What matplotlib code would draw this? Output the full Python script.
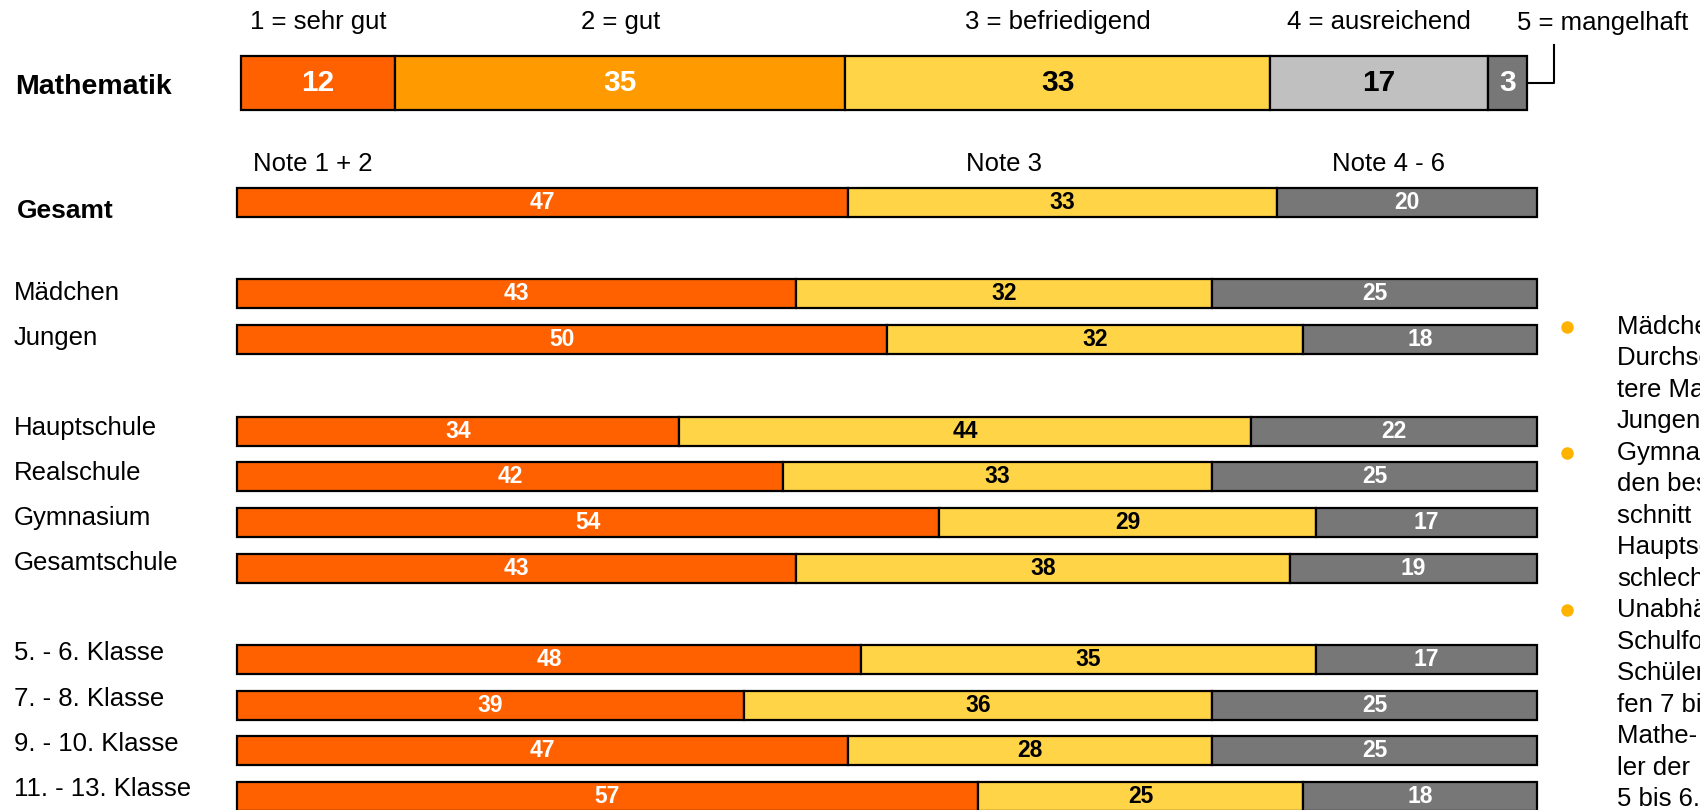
import matplotlib
matplotlib.use("Agg")
import matplotlib.pyplot as plt
from matplotlib.lines import Line2D

plt.rcParams["font.family"] = ["Liberation Sans", "DejaVu Sans"]

# ---- data -------------------------------------------------------------
math_grades = ["1 = sehr gut", "2 = gut", "3 = befriedigend", "4 = ausreichend", "5 = mangelhaft"]
math_values = [12, 35, 33, 17, 3]

note_headers = ["Note 1 + 2", "Note 3", "Note 4 - 6"]
group_labels = ["Gesamt", "Mädchen", "Jungen", "Hauptschule", "Realschule",
                "Gymnasium", "Gesamtschule", "5. - 6. Klasse", "7. - 8. Klasse",
                "9. - 10. Klasse", "11. - 13. Klasse"]
note_12 = [47, 43, 50, 34, 42, 54, 43, 48, 39, 47, 57]
note_3 = [33, 32, 32, 44, 33, 29, 38, 35, 36, 28, 25]
note_46 = [20, 25, 18, 22, 25, 17, 19, 17, 25, 25, 18]

notes_text = [
    "Mädchen haben im", "Durchschnitt schlech-", "tere Mathenoten als", "Jungen.",
    "Gymnasiasten haben", "den besten Durch-", "schnitt und", "Hauptschüler den",
    "schlechtesten.",
    "Unabhängig von der", "Schulform haben", "Schüler der Stu-", "fen 7 bis 8 schlech-",
    "Mathe- Noten als Schü-", "ler der", "5 bis 6.",
]
bullet_lines = [0, 4, 9]

# ---- styling ------------------------------------------------------------
W, H = 1700, 810
ORANGE_DARK = "#FF6100"
ORANGE = "#FF9A00"
YELLOW = "#FFD447"
GREY_LIGHT = "#C0C0C0"
GREY_DARK = "#777777"
EDGE_LW = 1.6

fig = plt.figure(figsize=(W / 100, H / 100), dpi=100)
fig.patch.set_facecolor("white")


def fx(px):
    return px / W


def fy(py):
    return 1 - py / H


def box(left, top, right, bottom):
    return [fx(left), fy(bottom), fx(right) - fx(left), fy(top) - fy(bottom)]


# ---- Mathematik: five-grade stacked bar ---------------------------------
m_left, m_right, m_top, m_bottom = 241, 1527, 56, 110
ax_m = fig.add_axes(box(m_left, m_top, m_right, m_bottom))
ax_m.set_xlim(0, 100)
ax_m.set_ylim(-0.5, 0.5)
ax_m.axis("off")

m_colors = [ORANGE_DARK, ORANGE, YELLOW, GREY_LIGHT, GREY_DARK]
m_text_colors = ["white", "white", "black", "black", "white"]
start = 0
for i, v in enumerate(math_values):
    ax_m.barh(0, v, left=start, height=1, color=m_colors[i], edgecolor="black",
              linewidth=EDGE_LW, clip_on=False)
    ax_m.text(start + v / 2, 0, str(v), ha="center", va="center", fontsize=21.5,
              fontweight="bold", color=m_text_colors[i])
    if i < 4:
        ax_m.text(start + v / 2, 0.5 + 34 / 54, math_grades[i], ha="center",
                  va="center", fontsize=18.5, color="black")
    start += v

# label for the last (narrow) segment, connected by a bracket line
fig.text(fx(1517), fy(23), math_grades[4], ha="left", va="center", fontsize=18.5)
fig.add_artist(Line2D([fx(1527), fx(1554), fx(1554)], [fy(83), fy(83), fy(45)],
                      transform=fig.transFigure, color="black", lw=1.5))
fig.text(fx(15), fy(87), "Mathematik", ha="left", va="center", fontsize=20.5,
         fontweight="bold")

# ---- grouped three-class bars --------------------------------------------
slots = [0, 2, 3, 5, 6, 7, 8, 10, 11, 12, 13]
row0, row_h = 202.5, 45.7
g_left, g_right = 237, 1537
ax = fig.add_axes(box(g_left, row0 - 0.5 * row_h, g_right, row0 + 13.5 * row_h))
ax.set_xlim(0, 100)
ax.set_ylim(13.5, -0.5)
ax.axis("off")

bar_h = 29 / row_h
ax.barh(slots, note_12, height=bar_h, color=ORANGE_DARK, edgecolor="black",
        linewidth=EDGE_LW, clip_on=False)
ax.barh(slots, note_3, left=note_12, height=bar_h, color=YELLOW,
        edgecolor="black", linewidth=EDGE_LW, clip_on=False)
left3 = [a + b for a, b in zip(note_12, note_3)]
ax.barh(slots, note_46, left=left3, height=bar_h, color=GREY_DARK,
        edgecolor="black", linewidth=EDGE_LW, clip_on=False)

for s, a, b, c, l3 in zip(slots, note_12, note_3, note_46, left3):
    ax.text(a / 2, s, str(a), ha="center", va="center", fontsize=16.5,
            fontweight="bold", color="white")
    ax.text(a + b / 2, s, str(b), ha="center", va="center", fontsize=16.5,
            fontweight="bold", color="black")
    ax.text(l3 + c / 2, s, str(c), ha="center", va="center", fontsize=16.5,
            fontweight="bold", color="white")

# row labels on the left
lab_tr = ax.get_yaxis_transform()
for k, (s, lab) in enumerate(zip(slots, group_labels)):
    if k == 0:
        ax.text((17 - g_left) / (g_right - g_left), s + 0.18, lab, transform=lab_tr,
                ha="left", va="center", fontsize=19, fontweight="bold")
    else:
        drift = s * 0.6 / row_h
        ax.text((14 - g_left) / (g_right - g_left), s - drift, lab, transform=lab_tr,
                ha="left", va="center", fontsize=18.5)

# column headers above the Gesamt bar
for txt, cx in zip(note_headers, [313, 1004, 1388]):
    fig.text(fx(cx), fy(164), txt, ha="center", va="center", fontsize=18.5)

# ---- commentary on the right ---------------------------------------------
line0, line_step = 326.7, 31.5
for i, line in enumerate(notes_text):
    fig.text(fx(1617), fy(line0 + i * line_step), line, ha="left", va="center",
             fontsize=18.5, color="black")
for i in bullet_lines:
    fig.add_artist(Line2D([fx(1567)], [fy(line0 + i * line_step)], marker="o",
                          markersize=9, markerfacecolor="#FFB300",
                          markeredgewidth=0, linestyle="none",
                          transform=fig.transFigure))

fig.savefig("out.png", dpi=100, facecolor="white")
